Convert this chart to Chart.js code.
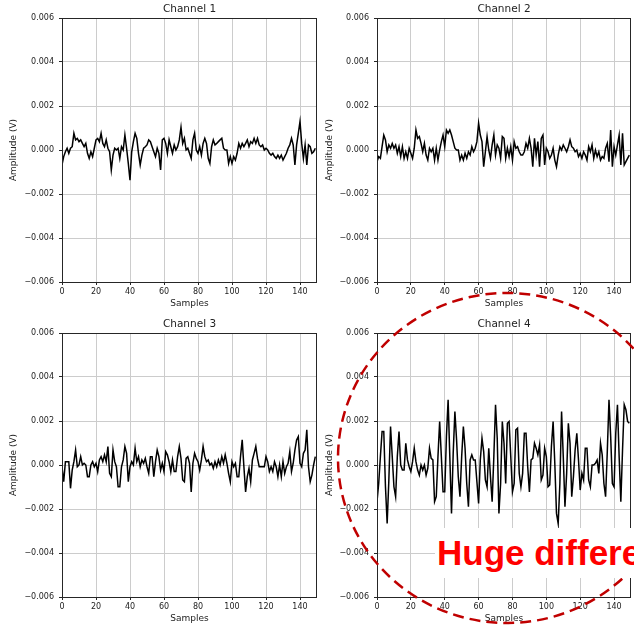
<!DOCTYPE html>
<html>
<head>
<meta charset="utf-8">
<title>Channels</title>
<script src="https://cdn.jsdelivr.net/npm/chart.js@4.4.0/dist/chart.umd.min.js"></script>
<style>
  html, body { margin: 0; padding: 0; background: #fff; }
  #stage { position: relative; width: 634px; height: 627px; overflow: hidden; }
  #stage canvas { position: absolute; }
  #ring { position: absolute; left: 0; top: 0; }
  #note {
    position: absolute; left: 435px; top: 528px; width: 199px; height: 50px;
    background: #fff; color: #ff0000; white-space: nowrap; overflow: hidden;
    font: bold 35px "Liberation Sans", Arial, sans-serif; line-height: 50px;
    text-indent: 2px;
  }
</style>
</head>
<body>
<div id="stage">
  <canvas id="ch1"></canvas>
  <canvas id="ch2"></canvas>
  <canvas id="ch3"></canvas>
  <canvas id="ch4"></canvas>
  <svg id="ring" width="634" height="627">
    <ellipse cx="507" cy="458" rx="169" ry="165" fill="none"
      stroke="#c00000" stroke-width="2.5" stroke-dasharray="11 6"/>
  </svg>
  <div id="note">Huge difference</div>
</div>

<script>
// ================================================
//  Four channel traces, 150 samples each (values in V)
// ================================================

const xTicks = [0, 20, 40, 60, 80, 100, 120, 140];
const yTicks = [-0.006, -0.004, -0.002, 0, 0.002, 0.004, 0.006];
const channelNames = ['Channel 1', 'Channel 2', 'Channel 3', 'Channel 4'];

const channel1 = [
  -0.00068,-0.00030,-0.00008,0.00008,-0.00015,0.00008,0.00015,0.00076,0.00046,0.00053,
  0.00038,0.00046,0.00030,0.00015,0.00030,-0.00015,-0.00038,-0.00008,-0.00030,0.00008,
  0.00046,0.00053,0.00038,0.00076,0.00030,0.00015,0.00046,0.00008,-0.00008,-0.00091,
  -0.00023,0.00008,0,0.00008,-0.00038,0.00015,0,0.00068,0.00008,-0.00061,
  -0.00137,-0.00008,0.00038,0.00076,0.00053,-0.00015,-0.00068,-0.00023,0.00008,0.00015,
  0.00023,0.00046,0.00038,0.00015,-0.00008,-0.00030,0.00008,-0.00015,
  -0.00091,0.00046,0.00053,0.00030,-0.00015,0.00046,0.00015,-0.00015,0.00023,0,
  0.00015,0.00046,0.00103,0.00030,0.00053,0,0.00008,-0.00015,-0.00038,0.00046,0.00076,
  0,-0.00015,0.00015,-0.00023,0.00030,0.00053,0.00030,-0.00038,-0.00061,0.00015,
  0.00046,0.00023,0.00030,0.00038,0.00046,0.00053,0.00008,0,0,-0.00061,
  -0.00030,-0.00061,-0.00030,-0.00046,-0.00015,0.00030,0.00008,0.00030,0.00015,0.00030,
  0.00046,0.00015,0.00038,0.00030,0.00053,0.00030,0.00053,
  0.00023,0.00015,0.00023,0,0.00008,0,-0.00015,-0.00023,-0.00015,-0.00030,
  -0.00038,-0.00023,-0.00038,-0.00023,-0.00046,-0.00030,-0.00015,0.00008,0.00023,0.00053,
  0.00023,-0.00068,0.00023,0.00076,0.00129,0.00030,-0.00038,0.00023,-0.00068,0.00023,
  0.00015,-0.00015,-0.00008,0.00008,
];

const channel2 = [
  -0.00053,-0.00030,-0.00038,0.00015,0.00068,0.00046,-0.00008,0.00023,0.00008,0.00030,
  0.00008,0.00023,-0.00015,0.00015,-0.00030,0.00015,-0.00038,-0.00008,-0.00038,0.00008,
  -0.00015,-0.00038,0.00008,0.00091,0.00053,0.00061,0.00030,-0.00008,0.00030,-0.00023,
  -0.00046,0.00008,-0.00008,0.00008,-0.00046,0.00008,-0.00046,0,0.00038,0.00068,
  0.00015,0.00091,0.00076,0.00091,0.00068,0.00038,0.00008,0,0,-0.00046,
  -0.00023,-0.00046,-0.00015,-0.00038,-0.00008,-0.00023,0.00015,-0.00008,0.00008,0.00038,
  0.00122,0.00068,0.00038,-0.00076,-0.00008,0.00061,0,-0.00038,0.00023,0.00068,
  -0.00023,0.00023,0.00008,-0.00038,0.00061,0.00053,
  -0.00038,0.00008,-0.00030,0.00015,-0.00046,0.00038,0.00008,0.00015,-0.00008,-0.00023,
  -0.00023,-0.00008,0.00030,0.00008,0.00053,0.00008,-0.00076,0.00053,-0.00023,0.00038,
  -0.00076,0.00053,0.00068,-0.00068,0.00008,-0.00008,-0.00038,-0.00023,0.00008,-0.00046,
  -0.00076,-0.00023,0.00015,0,0.00023,0.00008,-0.00008,0.00015,0.00046,0.00015,
  0.00008,-0.00008,0,-0.00030,-0.00015,-0.00038,-0.00008,-0.00023,-0.00046,0.00015,
  -0.00008,0.00023,-0.00038,0,-0.00030,-0.00008,-0.00046,-0.00030,-0.00038,0.00008,
  0.00030,-0.00053,0.00091,-0.00076,0.00015,-0.00023,0.00023,0.00068,-0.00068,0.00076,
  -0.00068,-0.00053,-0.00038,-0.00023,
];

const channel3 = [
  -0.00008,-0.00076,0.00015,0.00015,0.00015,-0.00106,-0.00023,0.00015,0.00068,-0.00008,
  0,0.00038,0,0.00008,0,-0.00053,-0.00053,0,0.00015,-0.00008,
  0.00008,-0.00030,0.00023,0.00038,0.00015,0.00046,0.00015,0.00084,-0.00038,-0.00053,
  0.00068,0.00015,-0.00008,-0.00099,-0.00099,-0.00008,0.00023,0.00084,0.00053,-0.00076,
  -0.00008,0.00015,0,0.00076,0.00015,0.00038,-0.00008,0.00023,0.00008,0.00030,
  -0.00008,-0.00038,0.00038,0.00038,-0.00053,0.00015,0.00068,0.00038,-0.00023,0.00008,
  -0.00030,0.00061,0.00046,0.00015,-0.00030,0.00023,-0.00030,-0.00030,0.00038,0.00084,
  0.00030,-0.00068,-0.00076,0.00030,0.00038,0.00008,
  -0.00122,0.00008,0.00053,0.00030,0.00015,-0.00023,0.00023,0.00084,0.00038,0.00015,
  0.00023,0,0.00008,-0.00015,0.00015,-0.00008,0.00023,0,0.00038,0.00008,
  0.00046,0.00008,-0.00038,-0.00076,0.00015,-0.00008,0.00008,-0.00053,-0.00053,0.00038,
  0.00114,-0.00008,-0.00122,-0.00053,-0.00015,-0.00076,0.00023,0.00053,0.00084,0.00030,
  -0.00008,-0.00008,-0.00008,-0.00008,0.00038,0.00015,-0.00030,-0.00008,-0.00030,0.00015,
  -0.00008,-0.00053,0,-0.00053,0.00015,-0.00038,-0.00008,0.00008,0.00061,-0.00030,
  0.00008,0.00068,0.00114,0.00129,0.00008,-0.00008,0.00053,0.00068,0.00160,-0.00008,
  -0.00076,-0.00046,0,0.00038,
];

const channel4 = [
  -0.00167,-0.00084,0.00038,0.00152,0.00152,-0.00099,-0.00266,-0.00068,0.00175,0.00038,
  -0.00099,-0.00144,0.00038,0.00152,0,-0.00023,-0.00023,0.00099,0.00023,-0.00008,
  -0.00030,0.00015,0.00076,0.00015,-0.00023,-0.00046,0,-0.00023,0,-0.00046,
  -0.00015,0.00076,0.00030,0.00023,-0.00167,-0.00144,0.00038,0.00198,0.00038,-0.00122,
  -0.00122,0.00129,0.00296,0.00038,-0.00220,0.00053,0.00243,0.00114,-0.00053,-0.00144,
  0.00038,0.00175,0.00076,-0.00084,-0.00190,0.00023,0.00046,0.00023,0.00023,-0.00076,
  -0.00175,0.00023,0.00122,0.00061,-0.00068,-0.00099,0.00076,-0.00053,-0.00167,0.00038,
  0.00274,0.00122,-0.00220,-0.00084,0.00198,0.00099,
  -0.00084,0.00190,0.00198,0.00038,-0.00122,-0.00084,0.00160,0.00167,-0.00038,-0.00099,
  -0.00038,0.00144,0.00144,-0.00008,-0.00122,0.00023,0.00030,0.00099,0.00076,0.00046,
  0.00091,-0.00068,-0.00046,0.00076,0.00038,-0.00099,-0.00091,0.00084,0.00198,0.00008,
  -0.00220,-0.00266,-0.00084,0.00243,0.00038,-0.00190,-0.00038,0.00190,0.00099,-0.00144,
  -0.00053,0.00068,0.00144,0.00023,-0.00114,-0.00038,-0.00068,0.00076,0.00076,-0.00068,
  -0.00099,0,0,0.00008,0.00023,-0.00038,0.00099,0.00046,-0.00084,-0.00144,
  0.00061,0.00296,0.00129,-0.00084,-0.00099,0.00144,0.00274,0.00038,-0.00167,0.00068,
  0.00274,0.00251,0.00198,0.00190,
];

const channels = [channel1, channel2, channel3, channel4];

//  Canvas placement for each panel (left, top, size, axis box sizes)

const panelLayout = [
  { id: 'ch1', left: 0,   top: 0,   width: 317, height: 315, yAxisW: 62, xAxisH: 33, padRight: 0, yTitlePad: 8.5, xTitlePad: 5.5 },
  { id: 'ch2', left: 317, top: 0,   width: 317, height: 315, yAxisW: 60, xAxisH: 33, padRight: 3, yTitlePad: 7.5, xTitlePad: 5.5 },
  { id: 'ch3', left: 0,   top: 315, width: 317, height: 312, yAxisW: 62, xAxisH: 30, padRight: 0, yTitlePad: 8.5, xTitlePad: 2.5 },
  { id: 'ch4', left: 317, top: 315, width: 317, height: 312, yAxisW: 60, xAxisH: 30, padRight: 3, yTitlePad: 7.5, xTitlePad: 2.5 },
];

const FONT = '"DejaVu Sans", Verdana, sans-serif';
const INK  = '#222222';

//  Axes frame (matplotlib style box on all four sides)

const framePlugin = {
  id: 'frame',
  afterDatasetsDraw(chart) {
    const { ctx, chartArea: a } = chart;
    ctx.save();
    ctx.strokeStyle = '#262626';
    ctx.lineWidth = 1;
    ctx.strokeRect(a.left + 0.5, a.top + 0.5, a.right - a.left - 1, a.bottom - a.top);
    ctx.restore();
  },
};

function fmtVolt(v) {
  if (Math.abs(v) < 1e-9) return '0.000';
  return (v < 0 ? '\u2212' : '') + Math.abs(v).toFixed(3);
}

function buildPanel(layout, name, values) {
  const canvas = document.getElementById(layout.id);
  canvas.width  = layout.width;
  canvas.height = layout.height;
  canvas.style.left = layout.left + 'px';
  canvas.style.top  = layout.top + 'px';

  const points = values.map((v, i) => ({ x: i, y: v }));

  new Chart(canvas, {
    type: 'line',
    data: {
      datasets: [{
        data:        points,
        borderColor: '#000000',
        borderWidth: 1.5,
        pointRadius: 0,
        tension:     0,
        fill:        false,
      }],
    },
    options: {
      responsive: false,
      animation:  false,
      events:     [],
      layout: { padding: { left: 0, right: layout.padRight, top: 0, bottom: 0 } },
      plugins: {
        legend:  { display: false },
        tooltip: { enabled: false },
        title: {
          display:  true,
          fullSize: false,   // centre over the plot area, not the canvas
          text:     name,
          color:    INK,
          font:     { family: FONT, size: 10.5, weight: 'normal' },
          padding:  { top: 3, bottom: 2.4 },
        },
      },
      scales: {
        x: {
          type: 'linear',
          min:  0,
          max:  150,
          afterBuildTicks: s => { s.ticks = xTicks.map(v => ({ value: v })); },
          afterFit:        s => { s.height = layout.xAxisH; },
          grid:   { color: '#cccccc', lineWidth: 1, tickColor: '#262626', tickLength: 3 },
          border: { display: false },
          ticks: {
            color: INK, padding: 2, maxRotation: 0, autoSkip: false,
            font:  { family: FONT, size: 8 },
          },
          title: {
            display: true, text: 'Samples', color: INK,
            font:    { family: FONT, size: 9 },
            padding: { top: 0, bottom: layout.xTitlePad },
          },
        },
        y: {
          type: 'linear',
          min:  -0.006,
          max:  0.006,
          afterBuildTicks: s => { s.ticks = yTicks.map(v => ({ value: v })); },
          afterFit:        s => { s.width = layout.yAxisW; },
          grid:   { color: '#cccccc', lineWidth: 1, tickColor: '#262626', tickLength: 3 },
          border: { display: false },
          ticks: {
            color: INK, padding: 5, autoSkip: false,
            font:  { family: FONT, size: 8 },
            callback: v => fmtVolt(v),
          },
          title: {
            display: true, text: 'Amplitude (V)', color: INK,
            font:    { family: FONT, size: 9 },
            padding: { top: layout.yTitlePad, bottom: 0 },
          },
        },
      },
    },
    plugins: [framePlugin],
  });
}

panelLayout.forEach((layout, i) => buildPanel(layout, channelNames[i], channels[i]));
</script>
</body>
</html>
